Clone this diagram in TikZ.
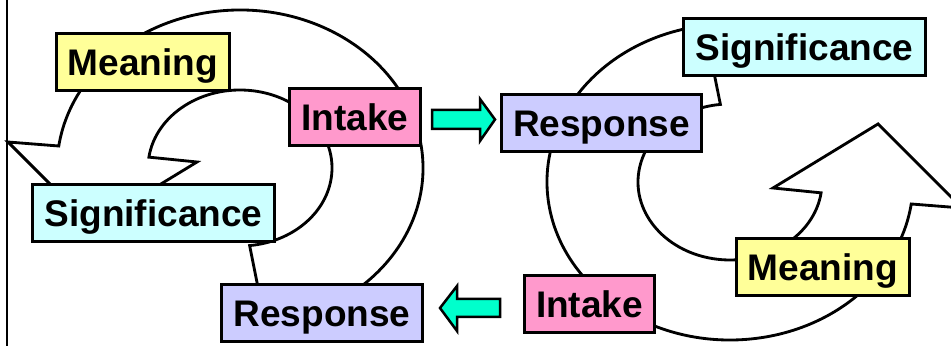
\documentclass[tikz,border=0pt]{standalone}
\usepackage{fontspec}
\setmainfont{Liberation Sans}
\definecolor{meancolor}{RGB}{255,255,153}
\definecolor{intakecolor}{RGB}{255,153,204}
\definecolor{signifcolor}{RGB}{204,255,255}
\definecolor{respcolor}{RGB}{204,204,255}
\definecolor{handcolor}{RGB}{0,255,204}

% circular band with its arrow head, drawn round (0,0)
\newcommand{\cycleband}{%
  \draw[band] (82:183 and 158)
    arc[start angle=82, end angle=-172, x radius=183, y radius=158]
    -- (-232,-26) -- (-148,58) -- (-43,-6)
    -- (-172:92 and 78)
    arc[start angle=-172, end angle=84, x radius=92, y radius=78] -- cycle;}

\begin{document}
\begin{tikzpicture}[x=0.03cm, y=-0.03cm,
  box/.style={draw, line width=0.09cm, inner xsep=0.35cm, inner ysep=0pt,
    minimum height=1.71cm, text height=0.795cm, text depth=0pt,
    font=\fontsize{31.6}{36}\selectfont\bfseries},
  band/.style={draw, fill=white, line width=0.085cm, line join=miter},
  handover/.style={draw, fill=handcolor, line width=0.075cm, line join=miter}]
  \useasboundingbox (0,0) rectangle (951,346);
  \clip (0,0) rectangle (951,346);
  % left edge
  \draw[line width=0.06cm] (7,0) -- (7,346);
  % left cycle
  \begin{scope}[shift={(240,168)}]
    \cycleband
  \end{scope}
  \node[box, fill=meancolor] (meanL) at (143,62.5) {Meaning};
  \node[box, fill=intakecolor] (intakeL) at (355,117.5) {Intake};
  \node[box, fill=signifcolor] (signifL) at (153.5,213) {Significance};
  \node[box, fill=respcolor] (respL) at (322,313) {Response};
  % right cycle, turned round
  \begin{scope}[shift={(730,182)}, rotate=180]
    \cycleband
  \end{scope}
  \node[box, fill=respcolor] (respR) at (601.5,123) {Response};
  \node[box, fill=signifcolor] (signifR) at (804.5,47) {Significance};
  \node[box, fill=meancolor] (meanR) at (823,267) {Meaning};
  \node[box, fill=intakecolor] (intakeR) at (589.5,304) {Intake};
  % arrows between the cycles
  \draw[handover] (432,110) -- (480,110) -- (480,99) -- (495,119.5)
    -- (480,141) -- (480,129) -- (432,129) -- cycle;
  \draw[handover] (500,299) -- (457,299) -- (457,286) -- (440,308)
    -- (457,331) -- (457,317) -- (500,317) -- cycle;
\end{tikzpicture}
\end{document}
